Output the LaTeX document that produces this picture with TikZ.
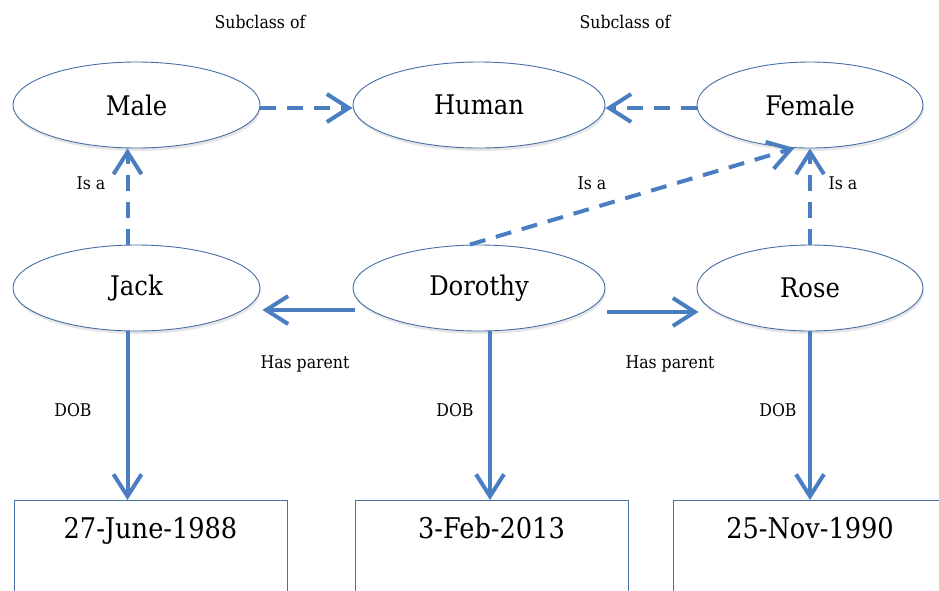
\documentclass[tikz,border=0pt]{standalone}
\usepackage{fontspec}
\setmainfont{DejaVu Serif Condensed}
\usetikzlibrary{arrows.meta,shapes.geometric,shadows}
\definecolor{lineblue}{RGB}{74,126,193}
\definecolor{edgeblue}{RGB}{70,110,165}
\tikzset{
  concept/.style={ellipse, draw=edgeblue, line width=0.9pt, fill=white, inner sep=0pt,
    minimum height=86pt, font=\fontsize{27}{29}\selectfont,
    drop shadow={shadow xshift=1pt, shadow yshift=-3pt, opacity=0.2}},
  datebox/.style={rectangle, draw=edgeblue, line width=0.8pt, fill=white, inner sep=0pt,
    minimum width=273pt, text height=38pt, text depth=54pt, anchor=north,
    font=\fontsize{28.5}{30}\selectfont},
  lbl/.style={font=\fontsize{17.5}{19}\selectfont, inner sep=1pt},
  tipend/.style={-{Straight Barb[length=22pt,width=28pt]}},
  dasharrow/.style={draw=lineblue, line width=4pt, dash pattern=on 16pt off 11pt, tipend},
  solidarrow/.style={draw=lineblue, line width=4pt, tipend}
}
\begin{document}
\begin{tikzpicture}[x=1pt,y=-1pt]
\useasboundingbox (0,0) rectangle (939,590);
% concepts
\node[concept, minimum width=247pt] (male) at (136.5,105) {Male};
\node[concept, minimum width=252pt] (human) at (479,105) {Human};
\node[concept, minimum width=226pt] (female) at (810,105) {Female};
\node[concept, minimum width=247pt] (jack) at (136.5,288) {Jack};
\node[concept, minimum width=252pt] (dorothy) at (479,288) {Dorothy};
\node[concept, minimum width=226pt] (rose) at (810,288) {Rose};
% dates
\node[datebox] (d1) at (150.5,500) {27-June-1988};
\node[datebox] (d2) at (491.5,500) {3-Feb-2013};
\node[datebox] (d3) at (810,500) {25-Nov-1990};
% dashed arrows
\draw[dasharrow] ([yshift=-3pt]male.east) -- ([yshift=-3pt]human.west);
\draw[dasharrow] ([yshift=-3pt]female.west) -- ([yshift=-3pt]human.east);
\draw[dasharrow] ([xshift=-9pt]jack.north) -- ([xshift=-9pt]male.south);
\draw[dasharrow] (rose.north) -- (female.south);
\draw[dasharrow] ([xshift=-9pt]dorothy.north) -- (female.250);
% solid arrows
\draw[solidarrow] ([xshift=2pt,yshift=-22pt]dorothy.west) -- ([xshift=2pt,yshift=-22pt]jack.east);
\draw[solidarrow] ([xshift=2pt,yshift=-24pt]dorothy.east) -- ([xshift=2pt,yshift=-24pt]rose.west);
\draw[solidarrow] ([xshift=-9pt]jack.south) -- ([xshift=-9pt]jack.south |- d1.north);
\draw[solidarrow] ([xshift=11pt]dorothy.south) -- ([xshift=11pt]dorothy.south |- d2.north);
\draw[solidarrow] (rose.south) -- (rose.south |- d3.north);
% labels
\node[lbl] (sc1) at (260,22) {Subclass of};
\node[lbl] (sc2) at (625,22) {Subclass of};
\node[lbl] (isa1) at (91,183) {Is a};
\node[lbl] (isa2) at (592,183) {Is a};
\node[lbl] (isa3) at (843,183) {Is a};
\node[lbl] (hp1) at (305,364) {Has parent};
\node[lbl] (hp2) at (670,364) {Has parent};
\node[lbl] (dob1) at (73,410) {DOB};
\node[lbl] (dob2) at (455,410) {DOB};
\node[lbl] (dob3) at (778,410) {DOB};
\end{tikzpicture}
\end{document}
